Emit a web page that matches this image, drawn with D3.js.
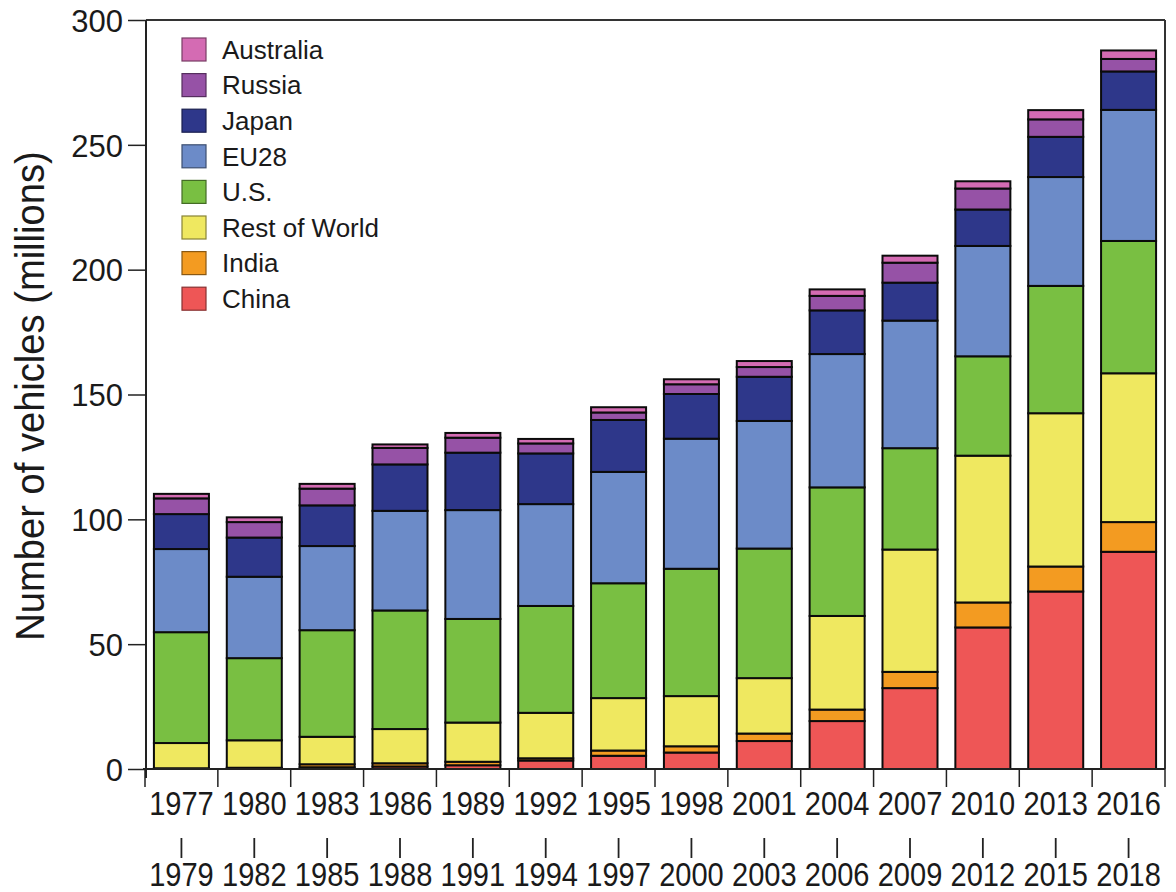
<!DOCTYPE html>
<html>
<head>
<meta charset="utf-8">
<script src="https://cdn.jsdelivr.net/npm/d3@7"></script>
<style>
  html, body { margin: 0; padding: 0; background: #fff; }
  svg { display: block; }
  text { font-family: "Liberation Sans", Arial, Helvetica, sans-serif; fill: #1a1a1a; }
</style>
</head>
<body>
<svg id="chart" width="1176" height="892"></svg>
<script>
// ---- data ----
const startYears = ["1977","1980","1983","1986","1989","1992","1995","1998","2001","2004","2007","2010","2013","2016"];
const endYears   = ["1979","1982","1985","1988","1991","1994","1997","2000","2003","2006","2009","2012","2015","2018"];
const seriesNames = ["China","India","Rest of World","U.S.","EU28","Japan","Russia","Australia"];
const china     = [0.1, 0.2, 0.7, 1.0, 1.5, 3.4, 5.3, 6.6, 11.2, 19.2, 32.4, 56.7, 71.1, 87.0];
const india     = [0.2, 0.3, 1.2, 1.3, 1.4, 0.9, 2.1, 2.5, 3.0, 4.6, 6.5, 10.0, 10.0, 11.9];
const restWorld = [10.1, 11.0, 11.0, 13.7, 15.7, 18.2, 21.0, 20.1, 22.2, 37.5, 49.0, 58.8, 61.4, 59.6];
const us        = [44.4, 32.9, 42.7, 47.5, 41.5, 42.8, 46.0, 51.0, 51.9, 51.5, 40.6, 39.8, 51.0, 53.0];
const eu28      = [33.3, 32.6, 33.7, 39.9, 43.6, 40.8, 44.6, 52.1, 51.1, 53.4, 51.1, 44.2, 43.6, 52.5];
const japan     = [14.0, 15.7, 16.3, 18.6, 23.0, 20.3, 20.8, 17.9, 17.7, 17.5, 15.2, 14.6, 16.1, 15.4];
const russia    = [6.3, 6.2, 6.7, 6.6, 6.0, 4.0, 3.0, 3.9, 3.9, 5.8, 8.0, 8.4, 7.0, 5.0];
const australia = [1.8, 1.9, 1.9, 1.4, 1.9, 1.8, 2.1, 2.0, 2.4, 2.6, 2.8, 2.9, 3.7, 3.4];
const yTicks = [0, 50, 100, 150, 200, 250, 300];
const colors = ["#ee5656", "#f39b21", "#efe860", "#79bf42", "#6c8bc8", "#2e378a", "#9652a6", "#d46bb3"];
const legendOrder = ["Australia","Russia","Japan","EU28","U.S.","Rest of World","India","China"];

(function () {
// ---- build table ----
const seriesValues = [china, india, restWorld, us, eu28, japan, russia, australia];
const table = startYears.map((s, i) => {
  const row = { key: s };
  seriesNames.forEach((n, j) => { row[n] = seriesValues[j][i]; });
  return row;
});
const stacked = d3.stack().keys(seriesNames)(table);
const color = d3.scaleOrdinal().domain(seriesNames).range(colors);

// ---- layout ----
const pLeft = 146, pRight = 1165, pTop = 20, pBottom = 769;
const svg = d3.select("#chart");

const x = d3.scaleBand().domain(startYears).range([pLeft - 1, pRight])
  .paddingInner(0.245).paddingOuter(0.1225);
const y = d3.scaleLinear().domain([0, 300]).range([pBottom, pTop]);
const halfGap = x.step() * x.paddingInner() / 2;

// bars
const g = svg.append("g");
stacked.forEach(layer => {
  g.selectAll(null).data(layer).enter().append("rect")
    .attr("x", d => x(d.data.key))
    .attr("width", x.bandwidth())
    .attr("y", d => y(d[1]))
    .attr("height", d => Math.max(0, y(d[0]) - y(d[1])))
    .attr("fill", color(layer.key))
    .attr("stroke", "#0b0b0b")
    .attr("stroke-width", 2);
});

// frame (top and right)
svg.append("line").attr("x1", pLeft).attr("x2", pRight).attr("y1", pTop).attr("y2", pTop)
  .attr("stroke", "#333").attr("stroke-width", 2);
svg.append("line").attr("x1", pRight).attr("x2", pRight).attr("y1", pTop).attr("y2", pBottom)
  .attr("stroke", "#333").attr("stroke-width", 2);

// y axis
const yAxis = d3.axisLeft(y).tickValues(yTicks).tickSize(18).tickPadding(5).tickSizeOuter(0);
const yg = svg.append("g").attr("transform", `translate(${pLeft},0)`).call(yAxis);
yg.select(".domain").attr("stroke", "#222").attr("stroke-width", 2).attr("d", `M0,${pTop}V${pBottom + 9}`);
yg.selectAll(".tick line").attr("stroke", "#222").attr("stroke-width", 1.5);
yg.selectAll(".tick text").style("font-size", "31px").attr("fill", "#1a1a1a").attr("dy", "0.36em");

// x axis: ticks at band boundaries
const boundaries = startYears.map(s => x(s) - halfGap).concat([x(startYears[startYears.length - 1]) + x.bandwidth() + halfGap]);
svg.append("line").attr("x1", pLeft - 3).attr("x2", pRight).attr("y1", pBottom).attr("y2", pBottom)
  .attr("stroke", "#222").attr("stroke-width", 2);
svg.selectAll(".xtick").data(boundaries).enter().append("line")
  .attr("x1", d => d).attr("x2", d => d)
  .attr("y1", pBottom).attr("y2", pBottom + 18)
  .attr("stroke", "#222").attr("stroke-width", 1.5);

// x labels (two rows with separator), slightly condensed
const cx = s => x(s) + x.bandwidth() / 2;
svg.selectAll(".xl1").data(startYears).enter().append("text")
  .attr("transform", d => `translate(${cx(d)},815) scale(0.88,1)`)
  .attr("text-anchor", "middle")
  .style("font-size", "33px").text(d => d);
svg.selectAll(".xsep").data(startYears).enter().append("line")
  .attr("x1", cx).attr("x2", cx).attr("y1", 838).attr("y2", 858)
  .attr("stroke", "#222").attr("stroke-width", 1.8);
svg.selectAll(".xl2").data(endYears).enter().append("text")
  .attr("transform", (d, i) => `translate(${cx(startYears[i])},886) scale(0.88,1)`)
  .attr("text-anchor", "middle")
  .style("font-size", "33px").text(d => d);

// y title (condensed)
svg.append("text")
  .attr("transform", "translate(44,396) rotate(-90) scale(0.93,1)")
  .attr("text-anchor", "middle")
  .style("font-size", "41px")
  .text("Number of vehicles (millions)");

// legend
const lg = svg.append("g");
legendOrder.forEach((name, i) => {
  const cy = 49.5 + i * 35.6;
  lg.append("rect").attr("x", 182).attr("y", cy - 11.5).attr("width", 24).attr("height", 23)
    .attr("fill", color(name)).attr("stroke", d3.color(color(name)).darker(1.6)).attr("stroke-width", 1.2);
  lg.append("text").attr("x", 222).attr("y", cy).attr("dy", "0.36em")
    .style("font-size", "26px").text(name);
});
})();
</script>
</body>
</html>
